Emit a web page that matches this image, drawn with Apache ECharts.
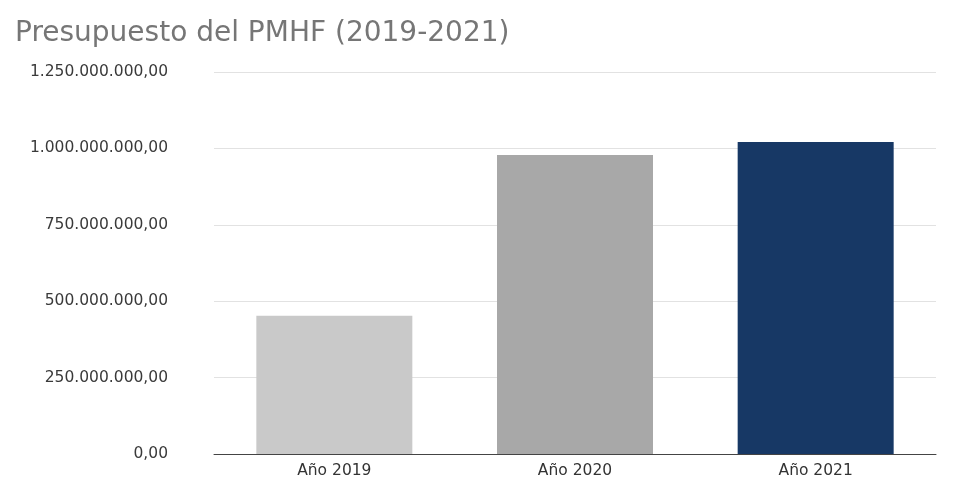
<!DOCTYPE html>
<html>
<head>
<meta charset="utf-8">
<script src="https://cdn.jsdelivr.net/npm/echarts@6/dist/echarts.min.js"></script>
<style>
  html, body { margin: 0; padding: 0; background: #fff; }
</style>
</head>
<body>
<div id="main" style="width: 966px;height: 482px;"></div>
<script>
// datos
var years = ['Año 2019', 'Año 2020', 'Año 2021']
var budget = [452000000, 978000000, 1021000000]
var barColors = ['#c9c9c9', '#a8a8a8', '#173865']

// 1250000000 -> 1.250.000.000,00
function fmtEs(v) {
    var s = Math.round(v).toString().replace(/\B(?=(\d{3})+(?!\d))/g, '.')
    return s + ',00'
}

var chart = echarts.init(document.getElementById('main'))
chart.setOption({
    animation: false,
    title: {
        text: 'Presupuesto del PMHF (2019-2021)',
        left: 10,
        top: 15,
        textStyle: {
            fontFamily: 'DejaVu Sans',
            fontSize: 28,
            fontWeight: 'normal',
            color: '#767676'
        }
    },
    grid: { left: 214, right: 30, top: 72, bottom: 28 },
    xAxis: {
        type: 'category',
        data: years,
        axisTick: { show: false },
        axisLine: { lineStyle: { color: '#444', width: 1 } },
        axisLabel: {
            fontFamily: 'DejaVu Sans',
            fontSize: 15.5,
            color: '#333',
            margin: 9
        }
    },
    yAxis: {
        type: 'value',
        min: 0,
        max: 1250000000,
        interval: 250000000,
        axisLine: { show: false },
        axisTick: { show: false },
        splitLine: { lineStyle: { color: '#e2e2e2' } },
        axisLabel: {
            formatter: fmtEs,
            fontFamily: 'DejaVu Sans',
            fontSize: 15.5,
            color: '#3a3a3a',
            margin: 46
        }
    },
    series: [{
        type: 'bar',
        data: budget.map(function (v, i) {
            return { value: v, itemStyle: { color: barColors[i] } }
        }),
        barWidth: 156
    }]
})
</script>
</body>
</html>
